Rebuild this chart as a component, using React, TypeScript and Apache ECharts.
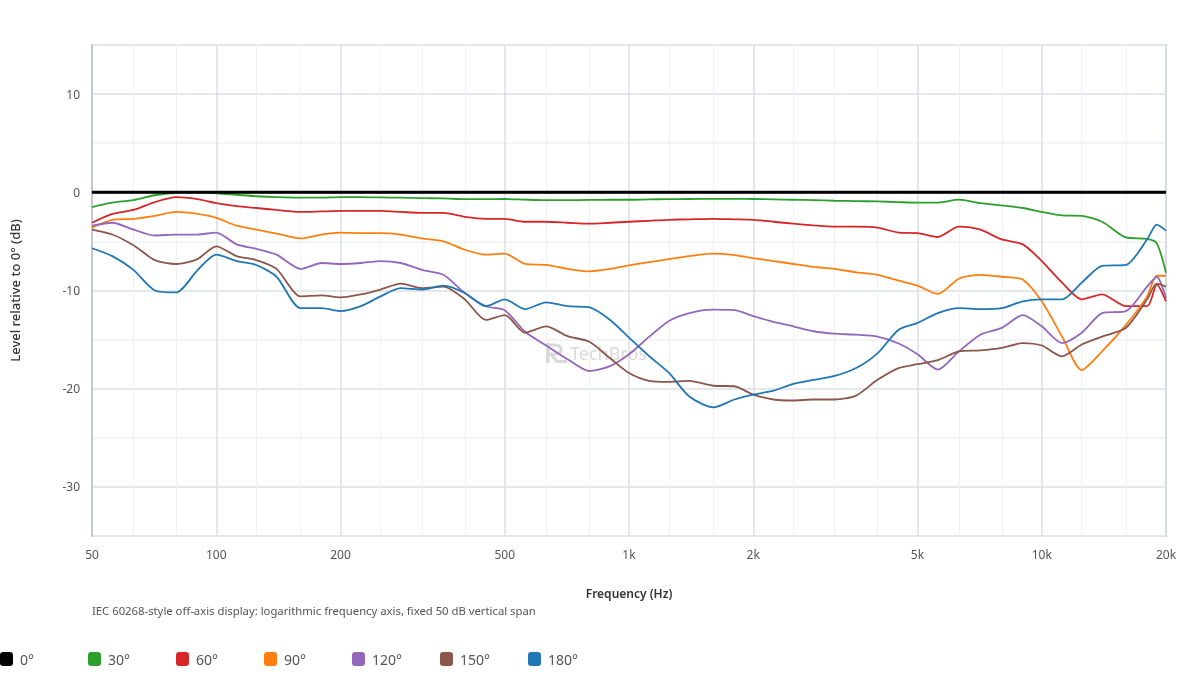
import React, { useEffect, useRef } from "react";
import * as echarts from "echarts";

const FREQS = [
  50, 56, 63, 71, 80, 90, 100, 112, 125, 140, 160, 180, 200, 224, 250, 280, 315, 355,
  400, 450, 500, 560, 630, 710, 800, 900, 1000, 1120, 1250, 1400, 1600, 1800, 2000, 2240,
  2500, 2800, 3150, 3550, 4000, 4500, 5000, 5600, 6300, 7100, 8000, 9000, 10000, 11200,
  12500, 14000, 16000, 18000, 19000, 20000,
];

const MAJOR_TICKS = [50, 100, 200, 500, 1000, 2000, 5000, 10000, 20000];
const MINOR_TICKS = [63, 80, 125, 160, 250, 315, 400, 630, 800, 1250, 1600, 2500, 3150, 4000, 6300, 8000, 12500, 16000];
const Y_LABELS = [-30, -20, -10, 0, 10];

const DEG_0 = [
  0, 0, 0, 0, 0, 0, 0, 0, 0, 0, 0, 0, 0, 0, 0, 0, 0, 0,
  0, 0, 0, 0, 0, 0, 0, 0, 0, 0, 0, 0, 0, 0, 0, 0, 0, 0,
  0, 0, 0, 0, 0, 0, 0, 0, 0, 0, 0, 0, 0, 0, 0, 0, 0, 0,
];
const DEG_30 = [
  -1.5, -1.05, -0.8, -0.3, -0.05, 0.0, -0.1, -0.25, -0.4, -0.5, -0.55, -0.55,
  -0.5, -0.5, -0.52, -0.55, -0.6, -0.62, -0.7, -0.7, -0.68, -0.75, -0.8, -0.8,
  -0.78, -0.76, -0.76, -0.72, -0.7, -0.68, -0.66, -0.66, -0.68, -0.72, -0.76, -0.8,
  -0.86, -0.9, -0.93, -1.0, -1.05, -1.05, -0.75, -1.1, -1.34, -1.6, -2.0, -2.36,
  -2.4, -3.0, -4.6, -4.75, -5.2, -8.2,
];
const DEG_60 = [
  -3.1, -2.2, -1.8, -1.0, -0.5, -0.7, -1.1, -1.4, -1.6, -1.8, -2.0, -1.95,
  -1.9, -1.9, -1.9, -2.0, -2.1, -2.1, -2.5, -2.7, -2.7, -3.0, -3.0, -3.1,
  -3.2, -3.1, -3.0, -2.9, -2.8, -2.75, -2.7, -2.75, -2.8, -3.0, -3.2, -3.37,
  -3.5, -3.5, -3.6, -4.1, -4.15, -4.55, -3.5, -3.8, -4.8, -5.3, -7.0, -9.2,
  -10.9, -10.4, -11.6, -11.6, -9.4, -11.1,
];
const DEG_90 = [
  -3.6, -2.8, -2.7, -2.4, -2.0, -2.2, -2.6, -3.4, -3.8, -4.2, -4.7, -4.3,
  -4.1, -4.15, -4.15, -4.3, -4.7, -5.0, -5.85, -6.35, -6.25, -7.3, -7.4, -7.8,
  -8.05, -7.8, -7.45, -7.1, -6.8, -6.5, -6.25, -6.4, -6.7, -7.0, -7.3, -7.6,
  -7.8, -8.15, -8.4, -9.0, -9.5, -10.35, -8.8, -8.4, -8.6, -8.9, -11.1, -14.7,
  -18.1, -16.2, -13.5, -10.6, -8.5, -8.5,
];
const DEG_120 = [
  -3.4, -3.1, -3.8, -4.4, -4.3, -4.3, -4.1, -5.3, -5.75, -6.35, -7.8, -7.2,
  -7.3, -7.2, -7.0, -7.2, -7.9, -8.4, -10.25, -11.6, -12.0, -14.2, -15.6, -17.0,
  -18.2, -17.7, -16.5, -14.7, -13.1, -12.3, -11.95, -12.0, -12.6, -13.2, -13.65, -14.15,
  -14.4, -14.5, -14.7, -15.4, -16.5, -18.05, -16.2, -14.5, -13.8, -12.5, -13.65, -15.35,
  -14.3, -12.3, -12.1, -9.6, -8.6, -10.8,
];
const DEG_150 = [
  -3.8, -4.3, -5.4, -6.9, -7.3, -6.8, -5.5, -6.5, -6.9, -7.8, -10.6, -10.5,
  -10.7, -10.4, -9.9, -9.3, -9.75, -9.6, -10.9, -13.0, -12.5, -14.3, -13.65, -14.65,
  -15.2, -16.9, -18.4, -19.2, -19.3, -19.2, -19.7, -19.75, -20.6, -21.1, -21.2, -21.1,
  -21.1, -20.7, -19.1, -17.9, -17.5, -17.1, -16.2, -16.1, -15.85, -15.35, -15.6, -16.7,
  -15.5, -14.7, -13.8, -10.9, -9.3, -9.6,
];
const DEG_180 = [
  -5.7, -6.5, -7.9, -10.0, -10.2, -7.95, -6.35, -7.0, -7.4, -8.6, -11.8, -11.8,
  -12.1, -11.6, -10.6, -9.75, -9.9, -9.5, -10.25, -11.6, -10.9, -11.9, -11.2, -11.6,
  -11.7, -13.0, -14.8, -16.7, -18.4, -20.8, -21.9, -21.1, -20.6, -20.2, -19.5, -19.1,
  -18.7, -17.9, -16.4, -14.0, -13.3, -12.3, -11.8, -11.9, -11.8, -11.1, -10.9, -10.9,
  -9.2, -7.5, -7.4, -4.8, -3.3, -3.9,
];

const SERIES_NAMES = ["0°", "30°", "60°", "90°", "120°", "150°", "180°"];
const SERIES_VALUES = [DEG_0, DEG_30, DEG_60, DEG_90, DEG_120, DEG_150, DEG_180];
const COLORS = ["#000000", "#2ca02c", "#d62728", "#ff7f0e", "#9467bd", "#8c564b", "#1f77b4"];

const X_NAME = "Frequency (Hz)";
const Y_NAME = "Level relative to 0° (dB)";
const SUBTITLE = "IEC 60268-style off-axis display: logarithmic frequency axis, fixed 50 dB vertical span";
const WATERMARK = "TechBros";

const FONT = "'Noto Sans', 'Open Sans', sans-serif";
const lg = (f: number) => Math.log10(f);
const fmtFreq = (v: number) => {
  const f = Math.round(Math.pow(10, v));
  return f >= 1000 ? f / 1000 + "k" : String(f);
};

let logoRegistered = false;

export default function App() {
  const ref = useRef<HTMLDivElement>(null);

  useEffect(() => {
    document.body.style.margin = "0";
    if (!logoRegistered) {
      echarts.graphic.registerShape(
        "logo",
        echarts.graphic.extendPath(
          "M3 0 L3 20 M3 2 L10 2 C14 2 16 4 16 6.5 C16 9.5 14 11 10.5 11 L6 11 L12 18.5 L22 18.5",
          {}
        ) as any
      );
      logoRegistered = true;
    }
    const chart = echarts.init(ref.current!, null, { renderer: "svg" });
    const xMin = lg(50);
    const xMax = lg(20000);

    const series = SERIES_NAMES.map((name, i) => ({
      name,
      type: "line",
      xAxisIndex: 0,
      data: FREQS.map((f, j) => [lg(f), SERIES_VALUES[i][j]]),
      showSymbol: false,
      symbol: "none",
      smooth: i === 0 ? false : 0.25,
      z: i === 0 ? 5 : 3,
      lineStyle: { color: COLORS[i], width: i === 0 ? 3 : 1.8 },
      itemStyle: { color: COLORS[i] },
    }));

    const legends = SERIES_NAMES.map((name, i) => ({
      left: i * 88,
      top: 652,
      padding: 0,
      itemWidth: 13,
      itemHeight: 14,
      icon: "roundRect",
      data: [name],
      textStyle: { fontSize: 14, color: "#555", fontFamily: FONT, padding: [0, 0, 0, 2] },
    }));

    chart.setOption({
      animation: false,
      textStyle: { fontFamily: FONT },
      grid: {
        left: 92,
        right: 34,
        top: 45,
        bottom: 164,
        show: true,
        borderColor: "#c3c9cf",
        borderWidth: 2,
        backgroundColor: "transparent",
      },
      legend: legends,
      xAxis: [
        {
          type: "value",
          min: xMin,
          max: xMax,
          position: "bottom",
          name: X_NAME,
          nameLocation: "middle",
          nameGap: 51,
          nameTextStyle: { fontSize: 12, fontWeight: 600, color: "#333", fontFamily: FONT },
          axisLine: { show: true, lineStyle: { color: "#c3c9cf", width: 2 } },
          axisTick: { show: false, customValues: MAJOR_TICKS.map(lg) },
          axisLabel: {
            customValues: MAJOR_TICKS.map(lg),
            formatter: fmtFreq,
            color: "#555",
            fontSize: 12,
            margin: 12,
            fontFamily: FONT,
          },
          splitLine: { show: true, lineStyle: { color: "#dce1e5", width: 1.5 } },
        },
        {
          type: "value",
          min: xMin,
          max: xMax,
          position: "bottom",
          axisLine: { show: false },
          axisTick: { show: false, customValues: MINOR_TICKS.map(lg) },
          axisLabel: { show: false, customValues: MINOR_TICKS.map(lg) },
          splitLine: { show: true, lineStyle: { color: "#eef1f3", width: 1 } },
        },
      ],
      yAxis: {
        type: "value",
        min: -35,
        max: 15,
        interval: 5,
        name: Y_NAME,
        nameLocation: "middle",
        nameGap: 71,
        nameRotate: 90,
        nameTextStyle: { fontSize: 13, fontWeight: 500, color: "#333", fontFamily: FONT },
        axisLine: { show: true, lineStyle: { color: "#c3c9cf", width: 2 } },
        axisTick: { show: false },
        axisLabel: {
          color: "#555",
          fontSize: 12,
          margin: 12,
          fontFamily: FONT,
          formatter: (v: number) => (Y_LABELS.indexOf(v) >= 0 ? String(v) : ""),
        },
        splitLine: { show: true, lineStyle: { color: ["#eef1f3", "#dce1e5"], width: 1.5 } },
      },
      graphic: [
        {
          type: "text",
          x: 92,
          y: 610,
          silent: true,
          style: {
            text: SUBTITLE,
            fill: "#555",
            fontSize: 11.3,
            fontFamily: FONT,
            verticalAlign: "middle",
          },
        },
        {
          type: "logo",
          x: 545,
          y: 343,
          silent: true,
          z: 1,
          style: { fill: "none", stroke: "rgba(120,120,120,0.28)", lineWidth: 3.2 },
        },
        {
          type: "text",
          x: 570,
          y: 353,
          silent: true,
          z: 1,
          style: {
            text: WATERMARK,
            fill: "rgba(120,120,120,0.28)",
            fontSize: 18,
            fontFamily: FONT,
            verticalAlign: "middle",
          },
        },
      ],
      series,
    });
    return () => chart.dispose();
  }, []);

  return (
    <div
      ref={ref}
      style={{ position: "fixed", left: 0, top: 0, width: 1200, height: 700 }}
    />
  );
}
